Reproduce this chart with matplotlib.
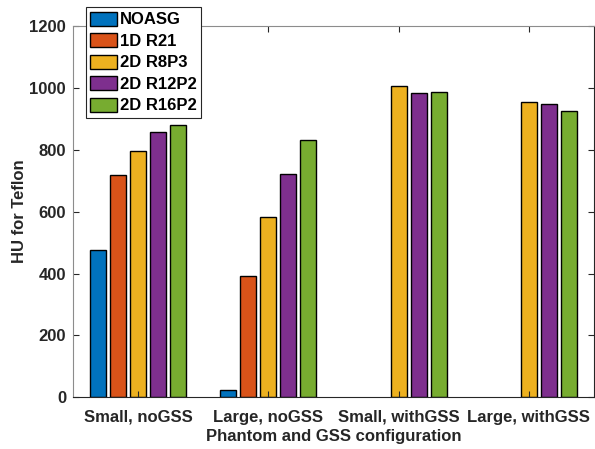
import matplotlib.pyplot as plt
import numpy as np

plt.rcParams['font.family'] = ['Liberation Sans', 'DejaVu Sans']
plt.rcParams['font.weight'] = 'bold'
plt.rcParams['axes.labelweight'] = 'bold'
plt.rcParams['font.size'] = 12

categories = ['Small, noGSS', 'Large, noGSS', 'Small, withGSS', 'Large, withGSS']
series = ['NOASG', '1D R21', '2D R8P3', '2D R12P2', '2D R16P2']
noasg = [476, 23, np.nan, np.nan]
r21 = [717, 393, np.nan, np.nan]
r8p3 = [795, 582, 1007, 955]
r12p2 = [857, 722, 983, 947]
r16p2 = [881, 831, 987, 925]
values = [noasg, r21, r8p3, r12p2, r16p2]
colors = ['#0072BD', '#D95319', '#EDB120', '#7E2F8E', '#77AC30']

fig = plt.figure(figsize=(5.95, 4.49), dpi=100)
ax = fig.add_axes([0.1227, 0.1151, 0.8756, 0.8270])

x = np.arange(1, len(categories) + 1)
n = len(series)
gw = min(0.8, n / (n + 1.5))
pitch = gw / n
for i in range(n):
    off = (i - (n - 1) / 2) * pitch
    ax.bar(x + off, values[i], pitch * 0.8, color=colors[i], edgecolor='black',
           linewidth=1.0, label=series[i])

ax.set_xlim(0.5, 4.5)
ax.set_ylim(0, 1200)
ax.set_yticks(np.arange(0, 1201, 200))
ax.set_xticks(x)
ax.set_xticklabels(categories)
ax.tick_params(direction='in', length=4, width=0.8, colors='#262626',
               top=True, right=True)
ax.tick_params(axis='y', pad=5)
ax.tick_params(axis='x', pad=9)
ax.spines['left'].set_color('#8c8c8c')
ax.spines['top'].set_color('#8c8c8c')
ax.spines['right'].set_color('#262626')
ax.spines['bottom'].set_color('#262626')
ax.set_xlabel('Phantom and GSS configuration', color='#262626', labelpad=3)
ax.set_ylabel('HU for Teflon', color='#262626', labelpad=2)

leg = ax.legend(loc='upper left', bbox_to_anchor=(0.144, 0.984),
                bbox_transform=fig.transFigure, fancybox=False, framealpha=1,
                edgecolor='#262626', borderaxespad=0, borderpad=0.27,
                handlelength=1.6, handleheight=0.9, handletextpad=0.2,
                labelspacing=0.35)
leg.get_frame().set_linewidth(0.8)

plt.savefig('out.png', dpi=100)
